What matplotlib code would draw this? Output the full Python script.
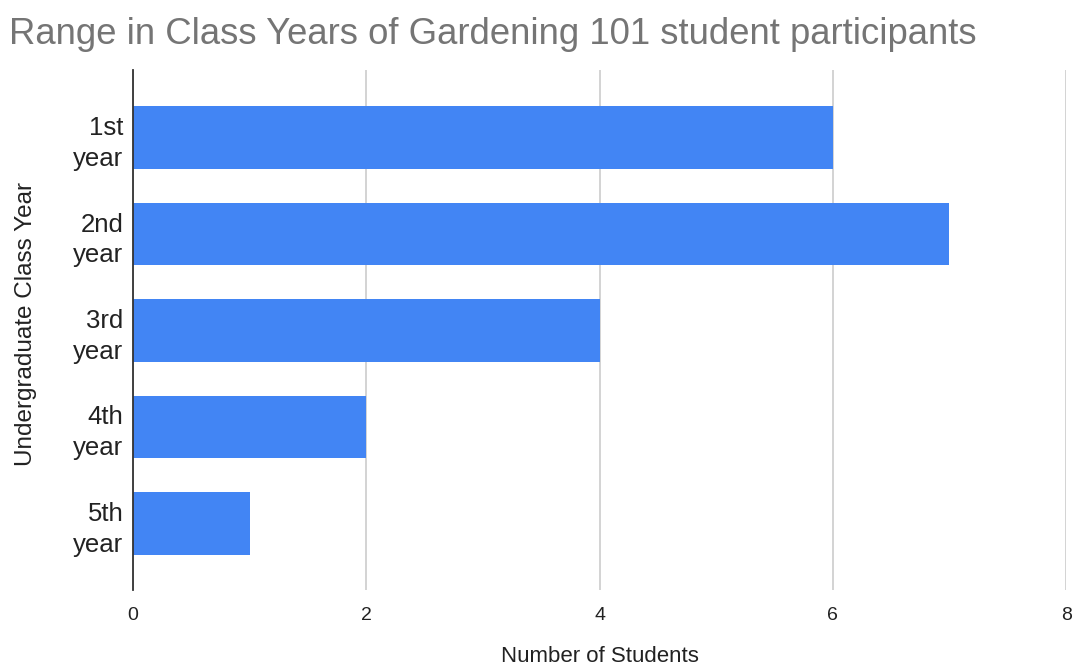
import matplotlib.pyplot as plt

plt.rcParams['font.family'] = ['Liberation Sans', 'DejaVu Sans']

# data
categories = ['1st\nyear', '2nd\nyear', '3rd\nyear', '4th\nyear', '5th\nyear']
students = [6, 7, 4, 2, 1]
x_ticks = [0, 2, 4, 6, 8]

fig = plt.figure(figsize=(10.75, 6.67), dpi=100)
ax = fig.add_axes([0.1237, 0.1154, 0.868, 0.7796])

ax.barh(range(len(categories)), students, height=0.65, color='#4285F4', zorder=3)

ax.set_xlim(0, 8)
ax.set_ylim(4.69, -0.70)
ax.set_xticks(x_ticks)
ax.set_xticklabels([str(t) for t in x_ticks], fontsize=14, color='#222222')
ax.set_yticks(range(len(categories)))
ax.set_yticklabels(categories, fontsize=18.5, color='#222222', linespacing=1.35)
ax.tick_params(axis='both', length=0)
ax.tick_params(axis='x', pad=12)
ax.tick_params(axis='y', pad=7)

ax.grid(axis='x', color='#cccccc', linewidth=1.2, zorder=0)
for s in ['top', 'right', 'bottom']:
    ax.spines[s].set_visible(False)
ax.spines['left'].set_color('#333333')
ax.spines['left'].set_linewidth(1.3)
ax.spines['left'].set_zorder(4)

fig.text(0.008, 0.949, 'Range in Class Years of Gardening 101 student participants',
         fontsize=26.3, color='#757575', ha='left', va='center')
fig.text(0.558, 0.016, 'Number of Students', fontsize=16, color='#222222',
         ha='center', va='center')
fig.text(0.024, 0.514, 'Undergraduate Class Year', fontsize=17.5, color='#222222',
         ha='center', va='center', rotation=90)

fig.savefig('out.png', dpi=100)
